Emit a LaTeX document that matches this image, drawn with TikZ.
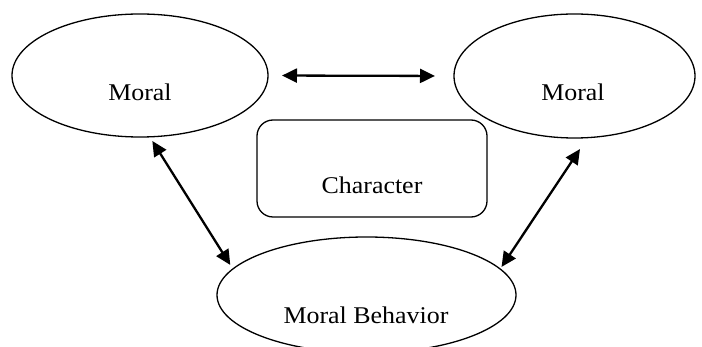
\documentclass[tikz,border=0pt]{standalone}
\usepackage{fontspec}
\setmainfont{Liberation Serif}[FakeStretch=1.08]
\usetikzlibrary{shapes.geometric,arrows.meta}
\begin{document}
\begin{tikzpicture}[x=1pt,y=-1pt,
  oval/.style={draw=black,line width=1.3pt,ellipse,inner sep=0pt,outer sep=0pt},
  rbox/.style={draw=black,line width=1.3pt,rectangle,rounded corners=16pt,inner sep=0pt,outer sep=0pt},
  lbl/.style={anchor=base,inner sep=0pt,font=\fontsize{24}{28}\selectfont},
  dbl/.style={line width=2.3pt,{Triangle[length=15pt,width=14pt]}-{Triangle[length=15pt,width=14pt]}}]
\useasboundingbox[fill=white] (0,0) rectangle (702,347);
% shapes
\node[oval,minimum width=256pt,minimum height=123pt] (L) at (140,75.5) {};
\node[oval,minimum width=241pt,minimum height=124pt] (R) at (574.5,76) {};
\node[oval,minimum width=299pt,minimum height=116pt] (B) at (366.5,295) {};
\node[rbox,minimum width=230pt,minimum height=97pt] (C) at (372,168.5) {};
% texts
\node[lbl] (Lt) at (140,100.7) {Moral};
\node[lbl] (Rt) at (573,100.7) {Moral};
\node[lbl] (Ct) at (372,193.3) {Character};
\node[lbl] (Bt) at (366,324) {Moral Behavior};
% connectors
\draw[dbl,shorten <=14pt,shorten >=19pt] (L.east) -- (R.west);
\draw[dbl,shorten <=4.9pt,shorten >=4.8pt] (L.-81.3) -- (B.169.5);
\draw[dbl,shorten <=13.7pt,shorten >=2.5pt] (R.-78.8) -- (B.11.5);
\end{tikzpicture}
\end{document}
